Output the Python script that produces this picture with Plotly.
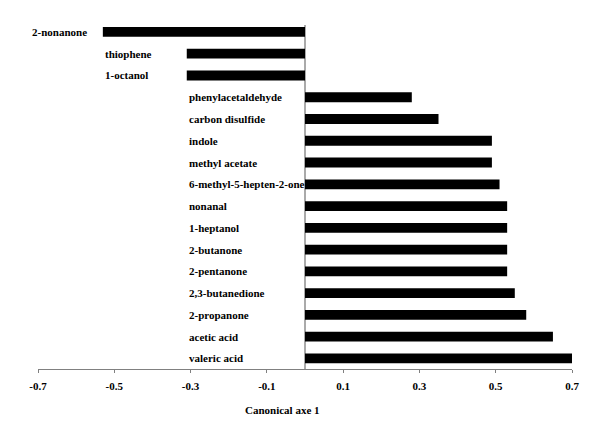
import plotly.graph_objects as go

compounds = ["2-nonanone", "thiophene", "1-octanol", "phenylacetaldehyde", "carbon disulfide",
             "indole", "methyl acetate", "6-methyl-5-hepten-2-one", "nonanal", "1-heptanol",
             "2-butanone", "2-pentanone", "2,3-butanedione", "2-propanone", "acetic acid",
             "valeric acid"]
values = [-0.53, -0.31, -0.31, 0.28, 0.35, 0.49, 0.49, 0.51, 0.53, 0.53,
          0.53, 0.53, 0.55, 0.58, 0.65, 0.70]
tick_vals = [-0.7, -0.5, -0.3, -0.1, 0.1, 0.3, 0.5, 0.7]
tick_text = ["-0.7", "-0.5", "-0.3", "-0.1", "0.1", "0.3", "0.5", "0.7"]
x_title = "Canonical axe 1"

n = len(compounds)
ypos = [n - 1 - i for i in range(n)]  # first compound at top

FONT = "Liberation Serif, Times New Roman, serif"

fig = go.Figure()
fig.add_trace(go.Bar(
    x=values, y=ypos, orientation="h",
    marker=dict(color="black", line=dict(width=0)),
    width=0.45, hoverinfo="x+text", text=compounds, textposition="none",
))

vmin = min(values)
annotations = []
for name, v, y in zip(compounds, values, ypos):
    if v == vmin:
        ann = dict(x=v, y=y, xanchor="right", xshift=-14, text=name)
    elif v < 0:
        ann = dict(x=vmin, y=y, xanchor="left", text=name)
    else:
        ann = dict(x=-0.31, y=y, xanchor="left", text=name)
    ann.update(xref="x", yref="y", showarrow=False, yanchor="middle",
               font=dict(family=FONT, size=11, color="black", weight="bold"))
    annotations.append(ann)

annotations.append(dict(
    xref="paper", yref="paper", x=0.457, y=-0.119, xanchor="center", yanchor="middle",
    text=x_title, showarrow=False,
    font=dict(family=FONT, size=11, color="black", weight="bold")))

fig.update_layout(
    width=592, height=435,
    margin=dict(l=30, r=28, t=17, b=74),
    paper_bgcolor="white", plot_bgcolor="white",
    showlegend=False,
    annotations=annotations,
    xaxis=dict(
        range=[-0.7, 0.7], tickvals=tick_vals, ticktext=tick_text,
        showgrid=False, zeroline=True, zerolinecolor="#aaaaaa", zerolinewidth=2,
        showline=True, linecolor="#808080", linewidth=1,
        ticks="outside", ticklen=3, tickcolor="#808080",
        ticklabelstandoff=4,
        tickfont=dict(family=FONT, size=11, color="black", weight="bold"),
        fixedrange=True,
    ),
    yaxis=dict(
        range=[-0.49, n - 1 + 0.32], showticklabels=False, showgrid=False,
        zeroline=False, showline=False, ticks="", fixedrange=True,
    ),
)

fig.write_html("out.html")
